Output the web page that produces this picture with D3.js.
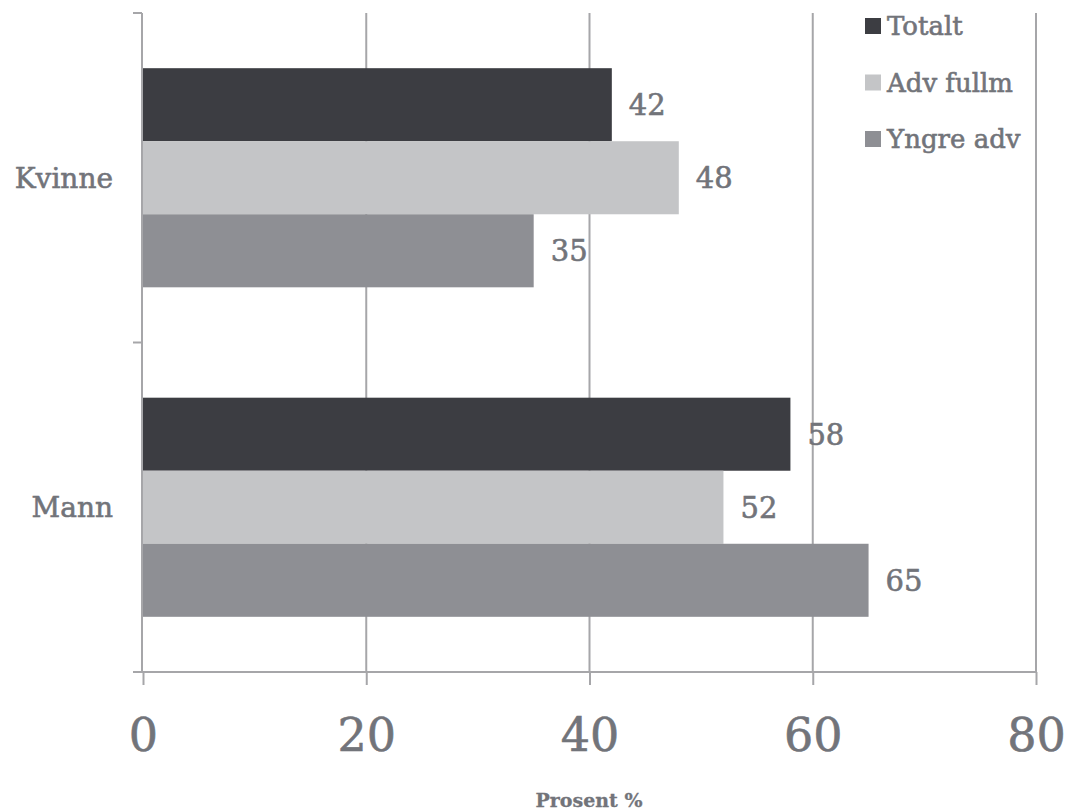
<!DOCTYPE html>
<html>
<head>
<meta charset="utf-8">
<script src="https://cdn.jsdelivr.net/npm/d3@7"></script>
<style>
  body { margin: 0; background: #fff; }
  text { font-family: "DejaVu Serif", serif; fill: #72747a; stroke: #72747a; stroke-width: 0.6px; }
</style>
</head>
<body>
<svg id="chart" width="1069" height="812"></svg>
<script>
// data
var categories = ["Kvinne", "Mann"];
var seriesNames = ["Totalt", "Adv fullm", "Yngre adv"];
var totalt = [42, 58];
var advFullm = [48, 52];
var yngreAdv = [35, 65];
var xTicks = [0, 20, 40, 60, 80];
var colors = ["#3c3d42", "#c4c5c7", "#8e8f94"];

var seriesValues = [totalt, advFullm, yngreAdv];
var data = categories.map(function(c, i) {
	return {
		key: c,
		values: seriesNames.map(function(s, j) { return { series: s, value: seriesValues[j][i] }; })
	};
});

var margin = { top: 13, left: 142, right: 33, bottom: 140 };
var width = 1069 - margin.left - margin.right;
var height = 812 - margin.top - margin.bottom;

var svg = d3.select("#chart");
var g = svg.append("g")
	.attr("transform", "translate(" + margin.left + "," + margin.top + ")");

var x = d3.scaleLinear().domain([0, 80]).range([1, width]);
var y0 = d3.scaleBand().domain(categories).range([0, height])
	.paddingInner(0.335).paddingOuter(0.1675);
var y1 = d3.scaleBand().domain(seriesNames).range([0, y0.bandwidth()]);

// gridlines
g.selectAll(".grid")
	.data(xTicks.slice(1))
	.enter().append("line")
	.attr("class", "grid")
	.attr("x1", function(d) { return x(d); })
	.attr("x2", function(d) { return x(d); })
	.attr("y1", 0)
	.attr("y2", height)
	.attr("stroke", "#a6a6a9")
	.attr("stroke-width", 2);

// bars
var groups = g.selectAll(".group")
	.data(data)
	.enter().append("g")
	.attr("class", "group")
	.attr("transform", function(d) { return "translate(0," + y0(d.key) + ")"; });

groups.selectAll("rect")
	.data(function(d) { return d.values; })
	.enter().append("rect")
	.attr("x", x(0))
	.attr("y", function(d) { return y1(d.series); })
	.attr("width", function(d) { return x(d.value) - x(0); })
	.attr("height", y1.bandwidth())
	.attr("fill", function(d, i) { return colors[i]; });

groups.selectAll(".lbl")
	.data(function(d) { return d.values; })
	.enter().append("text")
	.attr("class", "lbl")
	.attr("x", function(d) { return x(d.value) + 17; })
	.attr("y", function(d) { return y1(d.series) + y1.bandwidth() / 2; })
	.attr("dy", "0.36em")
	.attr("font-size", 29)
	.text(function(d) { return d.value; });

// x axis
var xAxis = g.append("g")
	.attr("class", "axis axis--x")
	.attr("transform", "translate(0," + height + ")")
	.call(d3.axisBottom(x).tickValues(xTicks).tickSize(13).tickSizeOuter(0).tickPadding(33));
xAxis.select(".domain").attr("stroke", "#a6a6a9").attr("stroke-width", 2)
	.attr("d", "M-9,0H" + x(80));
xAxis.selectAll(".tick line").attr("stroke", "#a6a6a9").attr("stroke-width", 2);
xAxis.selectAll(".tick text").attr("font-size", 46).attr("font-family", "DejaVu Serif")
	.attr("fill", "#72747a").attr("stroke", "#72747a").attr("stroke-width", 0.9);

// y axis
var yAxis = g.append("g")
	.attr("class", "axis axis--y");
yAxis.append("line")
	.attr("x1", 0).attr("x2", 0).attr("y1", 0).attr("y2", height)
	.attr("stroke", "#a6a6a9").attr("stroke-width", 2);
yAxis.selectAll(".ytick")
	.data(d3.range(categories.length + 1))
	.enter().append("line")
	.attr("class", "ytick")
	.attr("x1", -9).attr("x2", 0)
	.attr("y1", function(i) { return i * y0.step(); })
	.attr("y2", function(i) { return i * y0.step(); })
	.attr("stroke", "#a6a6a9").attr("stroke-width", 2);
yAxis.selectAll(".ylabel")
	.data(categories)
	.enter().append("text")
	.attr("class", "ylabel")
	.attr("x", -29)
	.attr("y", function(d) { return y0(d) + y0.bandwidth() / 2; })
	.attr("dy", "0.36em")
	.attr("text-anchor", "end")
	.attr("font-size", 28)
	.text(function(d) { return d; });

// axis title
svg.append("text")
	.attr("x", margin.left + width / 2)
	.attr("y", 807)
	.attr("text-anchor", "middle")
	.attr("font-size", 19)
	.attr("font-weight", "bold")
	.style("stroke-width", "0.3px")
	.text("Prosent %");

// legend
var legend = svg.append("g")
	.attr("transform", "translate(865,18)");
var items = legend.selectAll(".item")
	.data(seriesNames)
	.enter().append("g")
	.attr("class", "item")
	.attr("transform", function(d, i) { return "translate(0," + i * 56.5 + ")"; });
items.append("rect")
	.attr("width", 16).attr("height", 16)
	.attr("fill", function(d, i) { return colors[i]; });
items.append("text")
	.attr("x", 22)
	.attr("y", 8)
	.attr("dy", "0.36em")
	.attr("font-size", 26)
	.text(function(d) { return d; });
</script>
</body>
</html>
